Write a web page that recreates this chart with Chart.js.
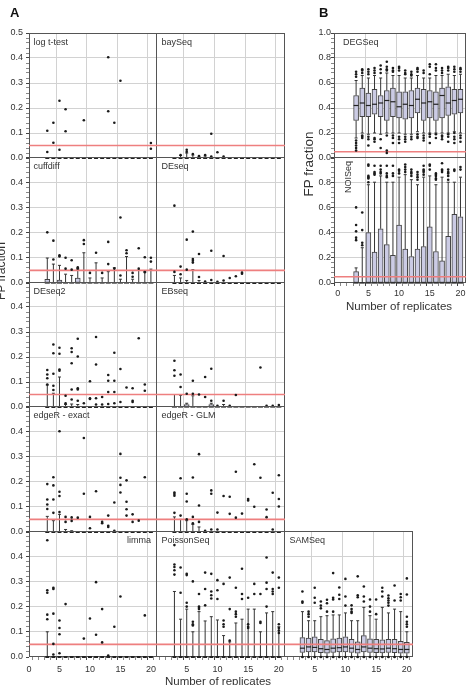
<!DOCTYPE html>
<html>
<head>
<meta charset="utf-8">
<script src="https://cdn.jsdelivr.net/npm/chart.js@4.4.1/dist/chart.umd.min.js"></script>
<style>
  html, body { margin: 0; padding: 0; background: #fff; }
  #stage { position: relative; width: 468px; height: 685px; overflow: hidden;
           font-family: "Liberation Sans", Arial, sans-serif; color: #333; }
  #stage canvas { position: absolute; }
  .lbl { position: absolute; white-space: nowrap; line-height: 1; }
</style>
</head>
<body>
<div id="stage"></div>
<script>
// number of replicates on the x axis
const reps = [3, 4, 5, 6, 7, 8, 9, 10, 11, 12, 13, 14, 15, 16, 17, 18, 19, 20];
const zeroes = [0, 0, 0, 0, 0, 0, 0, 0, 0, 0, 0, 0, 0, 0, 0, 0, 0, 0];
const fpThreshold = 0.05;

// log t-test
const logTOut = [[0.109, 0.024], [0.141, 0.061], [0.229, 0.033], [0.195, 0.107], [], [], [0.151], [], [], [],
  [0.403, 0.187], [0.141], [0.309], [], [], [], [], [0.06, 0.037]];

// baySeq
const baySeqHi = [0, 0.01, 0.02, 0.012, 0.005, 0.008, 0, 0, 0, 0, 0, 0, 0, 0, 0, 0, 0, 0];
const baySeqOut = [[], [0.012], [0.033, 0.025], [0.016], [0.008], [0.012], [0.097, 0.006], [0.023], [0.006], [],
  [], [], [], [], [], [], [], []];

// cuffdiff
const cuffdiffBox = [0.015, 0, 0.012, 0, 0, 0.02, 0, 0, 0, 0, 0, 0, 0, 0, 0, 0, 0, 0];
const cuffdiffHi = [0.099, 0.075, 0.07, 0.035, 0.03, 0.055, 0.12, 0.02, 0.08, 0.02, 0.045, 0.06, 0.015, 0.105, 0.015, 0.05, 0.045, 0.055];
const cuffdiffOut = [[0.201], [0.168, 0.093], [0.11, 0.105], [0.1, 0.057], [0.09, 0.053], [0.062, 0.058], [0.17, 0.155],
  [0.04], [0.12], [0.04], [0.163, 0.075], [0.058], [0.26, 0.03], [0.13, 0.118], [0.04, 0.025], [0.138, 0.057],
  [0.102, 0.043], [0.1, 0.085]];

// DEseq
const DEseqHi = [0.03, 0.02, 0.01, 0.053, 0.01, 0, 0, 0, 0, 0, 0, 0, 0, 0, 0, 0, 0, 0];
const DEseqOut = [[0.307, 0.044], [0.065, 0.035], [0.172, 0.053], [0.204, 0.095, 0.088, 0.081], [0.115, 0.024], [0.006],
  [0.128, 0.012], [0.005], [0.107, 0.01], [0.02], [0.027], [0.041, 0.037], [], [], [], [], [], []];

// DEseq2
const DEseq2Hi = [0.088, 0.055, 0.12, 0.01, 0.012, 0.01, 0, 0, 0, 0, 0, 0, 0, 0, 0, 0, 0, 0];
const DEseq2Out = [[0.148, 0.13, 0.115, 0.09], [0.25, 0.215, 0.133, 0.085, 0.068], [0.237, 0.213, 0.15, 0.145],
  [0.045, 0.015], [0.235, 0.22, 0.175, 0.07, 0.03], [0.273, 0.202, 0.075, 0.07, 0.025], [0.015],
  [0.103, 0.035, 0.032], [0.28, 0.17, 0.035, 0.01], [0.04, 0.01], [0.128, 0.105, 0.06, 0.012],
  [0.217, 0.105, 0.06, 0.015], [0.152, 0.02], [0.078], [0.075, 0.025, 0.02], [0.275], [0.09, 0.065], []];

// EBseq
const EBseqBox = [0, 0, 0.01, 0, 0, 0, 0.01, 0, 0, 0, 0, 0, 0, 0, 0, 0, 0, 0];
const EBseqHi = [0.05, 0.047, 0.015, 0.045, 0, 0, 0.015, 0, 0.01, 0, 0, 0, 0, 0, 0, 0, 0, 0];
const EBseqOut = [[0.185, 0.147, 0.125], [0.13, 0.08], [0.053], [0.105, 0.053], [0.05], [0.12, 0.04], [0.153, 0.025],
  [0.005], [0.025], [0.005], [0.048], [], [], [], [0.158], [0.005], [0.005], [0.008]];

// edgeR - exact
const edgeRExactHi = [0.062, 0.045, 0.07, 0.01, 0.005, 0, 0, 0, 0, 0, 0, 0, 0, 0, 0, 0, 0, 0];
const edgeRExactOut = [[0.19, 0.129, 0.109, 0.091], [0.217, 0.185, 0.129, 0.076], [0.4, 0.16, 0.143, 0.079],
  [0.06, 0.04], [0.058, 0.044], [0.057], [0.373, 0.152], [0.06, 0.015], [0.162], [0.04, 0.035],
  [0.065, 0.025, 0.02], [0.117, 0.005], [0.31, 0.215, 0.187, 0.157], [0.205, 0.12, 0.09, 0.065], [0.07, 0.04],
  [0.045], [0.217], []];

// edgeR - GLM
const edgeRGLMHi = [0.06, 0.05, 0.045, 0.03, 0.02, 0, 0, 0, 0, 0, 0, 0, 0, 0, 0, 0, 0, 0];
const edgeRGLMOut = [[0.157, 0.151, 0.144, 0.076], [0.213, 0.065], [0.152, 0.121, 0.05], [0.216, 0.06, 0.035],
  [0.309, 0.105, 0.04], [0.005], [0.165, 0.152, 0.01], [0.077, 0.01], [0.143], [0.14, 0.072], [0.239, 0.057],
  [0.073], [0.131, 0.125], [0.269, 0.1], [0.215], [0.089, 0.059], [0.156, 0.01], [0.225, 0.131, 0.101]];

// limma
const limmaHi = [0.1, 0, 0, 0, 0, 0, 0, 0, 0, 0, 0, 0, 0, 0, 0, 0, 0, 0];
const limmaOut = [[0.463, 0.265, 0.255, 0.168, 0.15], [0.275, 0.27, 0.172, 0.052, 0.01], [0.145, 0.115, 0.09, 0.015],
  [0.21], [], [], [0.073], [0.153], [0.297, 0.088], [0.19, 0.058], [0.006], [0.12], [0.24], [], [], [], [0.165], []];

// PoissonSeq
const PoissonSeqHi = [0.26, 0.15, 0.19, 0.1, 0.18, 0.143, 0.16, 0.147, 0.085, 0.06, 0.135, 0.15, 0.19, 0.19, 0.1, 0.175, 0.18, 0.12];
const PoissonSeqOut = [[0.444, 0.367, 0.357, 0.344, 0.327], [0.355, 0.255], [0.33, 0.325, 0.215, 0.2],
  [0.3, 0.14, 0.13, 0.125], [0.25, 0.2, 0.195, 0.19], [0.335, 0.27, 0.205], [0.33, 0.26, 0.245, 0.232],
  [0.305, 0.265, 0.23], [0.29, 0.145, 0.13, 0.12], [0.315, 0.19, 0.065], [0.275, 0.18, 0.17, 0.16],
  [0.35, 0.25, 0.23], [0.235, 0.13, 0.12, 0.115], [0.29, 0.25], [0.25, 0.14, 0.135], [0.395, 0.295, 0.27, 0.2],
  [0.335, 0.27, 0.26, 0.25], [0.315, 0.275, 0.13, 0.115, 0.105, 0.095]];

// SAMSeq
const SAMSeqQ1 = [0.018, 0.02, 0.02, 0.017, 0.015, 0.018, 0.02, 0.02, 0.018, 0.015, 0.02, 0.018, 0.017, 0.016, 0.018, 0.017, 0.015, 0.015];
const SAMSeqMed = [0.035, 0.04, 0.038, 0.033, 0.03, 0.035, 0.037, 0.04, 0.035, 0.03, 0.04, 0.035, 0.033, 0.032, 0.035, 0.033, 0.03, 0.03];
const SAMSeqBox = [0.077, 0.075, 0.08, 0.07, 0.065, 0.072, 0.075, 0.08, 0.07, 0.06, 0.085, 0.072, 0.07, 0.068, 0.07, 0.07, 0.062, 0.058];
const SAMSeqHi = [0.18, 0.144, 0.144, 0.16, 0.164, 0.167, 0.167, 0.175, 0.144, 0.144, 0.197, 0.164, 0.15, 0.197, 0.175, 0.19, 0.18, 0.1];
const SAMSeqOut = [[0.26, 0.22, 0.215, 0], [0.18, 0.17, 0.16, 0], [0.275, 0.235, 0.215, 0], [0.22, 0.204, 0.193, 0],
  [0.227, 0.213, 0.18, 0], [0.333, 0.235, 0.228, 0.18, 0], [0.276, 0.247, 0.23, 0], [0.31, 0.24, 0.204, 0],
  [0.205, 0.19, 0.18, 0.175, 0], [0.32, 0.245, 0.237, 0], [0.28, 0.24, 0.22, 0], [0.228, 0.2, 0.18, 0],
  [0.228, 0.17, 0], [0.275, 0.26, 0.24, 0], [0.244, 0.233, 0.224, 0.215, 0.204, 0], [0.284, 0.224, 0],
  [0.25, 0.237, 0.224, 0], [0.312, 0.248, 0.16, 0.14, 0.13, 0.12, 0]];

// DEGSeq (panel B)
const DEGSeqQ1 = [0.30, 0.33, 0.33, 0.35, 0.33, 0.30, 0.33, 0.32, 0.31, 0.32, 0.36, 0.30, 0.32, 0.30, 0.32, 0.34, 0.35, 0.36];
const DEGSeqMed = [0.42, 0.44, 0.42, 0.43, 0.44, 0.46, 0.45, 0.41, 0.43, 0.42, 0.47, 0.44, 0.45, 0.43, 0.50, 0.44, 0.46, 0.47];
const DEGSeqQ3 = [0.50, 0.56, 0.52, 0.55, 0.50, 0.54, 0.56, 0.53, 0.53, 0.54, 0.56, 0.55, 0.54, 0.53, 0.56, 0.57, 0.55, 0.55];
const DEGSeqLo = [0.16, 0.2, 0.19, 0.2, 0.19, 0.2, 0.2, 0.2, 0.19, 0.19, 0.21, 0.2, 0.2, 0.2, 0.2, 0.2, 0.21, 0.2];
const DEGSeqHi = [0.62, 0.66, 0.64, 0.66, 0.64, 0.68, 0.66, 0.66, 0.64, 0.64, 0.66, 0.64, 0.64, 0.66, 0.66, 0.67, 0.66, 0.67];
const DEGSeqOut = [[0.69, 0.67, 0.65, 0.14, 0.12, 0.1, 0.08, 0.06], [0.71, 0.7, 0.68, 0.18, 0.17, 0.16],
  [0.71, 0.69, 0.67, 0.17, 0.15, 0.1], [0.72, 0.7, 0.68, 0.16, 0.15, 0.13], [0.74, 0.71, 0.68, 0.15, 0.08],
  [0.77, 0.73, 0.71, 0.7, 0.18, 0.06, 0.04], [0.72, 0.7, 0.69, 0.18, 0.16, 0.12], [0.73, 0.72, 0.7, 0.17, 0.15, 0.12],
  [0.7, 0.68, 0.67, 0.17, 0.15, 0.13], [0.69, 0.67, 0.66, 0.17, 0.15], [0.72, 0.71, 0.69, 0.19, 0.17, 0.16],
  [0.7, 0.68, 0.18, 0.16, 0.14], [0.75, 0.73, 0.67, 0.19, 0.17, 0.12], [0.75, 0.72, 0.7, 0.19, 0.16],
  [0.72, 0.7, 0.68, 0.18, 0.17, 0.15], [0.73, 0.72, 0.7, 0.19, 0.17, 0.13], [0.73, 0.71, 0.69, 0.2, 0.17, 0.15, 0.12],
  [0.72, 0.71, 0.69, 0.18, 0.16, 0.13]];

// NOISeq (panel B)
const NOISeqQ3 = [0.09, 0, 0.4, 0.245, 0.43, 0.305, 0.22, 0.46, 0.27, 0.21, 0.27, 0.29, 0.445, 0.25, 0.175, 0.37, 0.545, 0.525];
const NOISeqHi = [0.12, 0.28, 0.78, 0.8, 0.85, 0.8, 0.8, 0.84, 0.86, 0.82, 0.78, 0.84, 0.85, 0.78, 0.84, 0.8, 0.8, 0.84];
const NOISeqOut = [[0.6, 0.46, 0.41, 0.36, 0.34], [0.56, 0.42, 0.32, 0.3], [0.94, 0.93, 0.85, 0.84, 0.83, 0.8],
  [0.93, 0.88, 0.87, 0.86], [0.93, 0.9, 0.88, 0.87], [0.93, 0.87, 0.85, 0.84], [0.93, 0.87, 0.85], [0.9, 0.89, 0.87],
  [0.94, 0.92, 0.9, 0.88], [0.9, 0.88, 0.87, 0.85], [0.88, 0.86, 0.84, 0.82], [0.93, 0.9, 0.89, 0.88, 0.86],
  [0.94, 0.93, 0.9], [0.87, 0.86, 0.85, 0.83, 0.82], [0.95, 0.9, 0.89, 0.88], [0.9, 0.88, 0.87, 0.85, 0.82],
  [0.9, 0.89], [0.92, 0.9]];

// panel layout (pixel edges of the plot areas)
const colEdgesA = [29, 156, 284, 412];
const rowEdgesA = [33, 157, 282, 406, 531, 656];
const edgesB = { left: 334, right: 465, rows: [33, 157, 282] };

const panels = [
  { title: 'log t-test', col: 0, row: 0, hi: zeroes, out: logTOut, yLab: true, yTop: true },
  { title: 'baySeq', col: 1, row: 0, hi: baySeqHi, out: baySeqOut },
  { title: 'cuffdiff', col: 0, row: 1, q3: cuffdiffBox, hi: cuffdiffHi, out: cuffdiffOut, yLab: true },
  { title: 'DEseq', col: 1, row: 1, hi: DEseqHi, out: DEseqOut },
  { title: 'DEseq2', col: 0, row: 2, hi: DEseq2Hi, out: DEseq2Out, yLab: true },
  { title: 'EBseq', col: 1, row: 2, q3: EBseqBox, hi: EBseqHi, out: EBseqOut },
  { title: 'edgeR - exact', col: 0, row: 3, hi: edgeRExactHi, out: edgeRExactOut, yLab: true },
  { title: 'edgeR - GLM', col: 1, row: 3, hi: edgeRGLMHi, out: edgeRGLMOut },
  { title: 'limma', col: 0, row: 4, hi: limmaHi, out: limmaOut, yLab: true, xLab: true, titleRight: true },
  { title: 'PoissonSeq', col: 1, row: 4, hi: PoissonSeqHi, out: PoissonSeqOut, xLab: true },
  { title: 'SAMSeq', col: 2, row: 4, q1: SAMSeqQ1, med: SAMSeqMed, q3: SAMSeqBox, hi: SAMSeqHi, out: SAMSeqOut, xLab: true },
  { title: 'DEGSeq', b: true, row: 0, q1: DEGSeqQ1, med: DEGSeqMed, q3: DEGSeqQ3, lo: DEGSeqLo, hi: DEGSeqHi, out: DEGSeqOut, yLab: true, yTop: true },
  { title: 'NOISeq', b: true, row: 1, q3: NOISeqQ3, hi: NOISeqHi, out: NOISeqOut, yLab: true, xLab: true, titleVert: true }
];

const stage = document.getElementById('stage');
Chart.defaults.font.family = '"Liberation Sans", Arial, sans-serif';
Chart.defaults.font.size = 9;
Chart.defaults.color = '#333';

// panel frame drawn under the marks
const framePlugin = {
  id: 'frame',
  beforeDatasetsDraw(chart) {
    const a = chart.chartArea, ctx = chart.ctx;
    ctx.save();
    ctx.strokeStyle = '#555';
    ctx.lineWidth = 1;
    ctx.strokeRect(a.left + 0.5, a.top + 0.5, a.right - a.left - 1, a.bottom - a.top - 1);
    ctx.restore();
  }
};

function isMult(v, step) {
  const r = v / step;
  return Math.abs(r - Math.round(r)) < 1e-6;
}

function addLabel(text, css) {
  const d = document.createElement('div');
  d.className = 'lbl';
  d.textContent = text;
  Object.assign(d.style, css);
  stage.appendChild(d);
  return d;
}

function buildDatasets(p) {
  const q1 = p.q1 || zeroes, med = p.med || zeroes, q3 = p.q3 || zeroes, lo = p.lo || zeroes;
  const boxes = [], upW = [], loW = [], caps = [], meds = [], outs = [];
  reps.forEach((x, i) => {
    if (q3[i] > q1[i]) boxes.push({ x, y: [q1[i], q3[i]] });
    if (p.hi[i] > q3[i]) { upW.push({ x, y: [q3[i], p.hi[i]] }); caps.push({ x, y: p.hi[i] }); }
    if (q1[i] > lo[i]) { loW.push({ x, y: [lo[i], q1[i]] }); caps.push({ x, y: lo[i] }); }
    meds.push({ x, y: med[i] });
    p.out[i].forEach(v => outs.push({ x, y: v }));
  });
  const flat = !p.q1 && !p.q3;
  return [
    { type: 'bar', data: boxes, order: 6, grouped: false, barThickness: 5, backgroundColor: '#cbcbe4',
      borderColor: '#444', borderWidth: 1, borderSkipped: false, clip: false },
    { type: 'bar', data: upW, order: 5, grouped: false, barThickness: 1, backgroundColor: '#333',
      borderWidth: 0, inflateAmount: 0, clip: false },
    { type: 'bar', data: loW, order: 5, grouped: false, barThickness: 1, backgroundColor: '#333',
      borderWidth: 0, inflateAmount: 0, clip: false },
    { type: 'scatter', data: caps, order: 4, pointStyle: 'line', pointRadius: 1.5,
      pointBorderColor: '#333', pointBorderWidth: 1, clip: false },
    { type: 'scatter', data: meds, order: 3, pointStyle: 'line', pointRadius: flat ? 2 : 2.5,
      pointBorderColor: '#222', pointBorderWidth: flat ? 2 : 1.2, clip: false },
    { type: 'line', data: [{ x: p.xMin, y: fpThreshold }, { x: p.xMax, y: fpThreshold }], order: 2,
      borderColor: '#ee7f7f', borderWidth: 1.6, pointRadius: 0, clip: false },
    { type: 'scatter', data: outs, order: 1, pointStyle: 'circle', pointRadius: 1.3,
      pointBackgroundColor: '#1a1a1a', pointBorderWidth: 0, clip: false }
  ];
}

function makePanel(p) {
  let left, right, top, bottom;
  if (p.b) {
    left = edgesB.left; right = edgesB.right + 1;
    top = edgesB.rows[p.row]; bottom = edgesB.rows[p.row + 1] + 1;
    p.xMin = -0.6; p.xMax = 20.9; p.yMax = 1.0; p.major = 0.2;
  } else {
    left = colEdgesA[p.col]; right = colEdgesA[p.col + 1] + 1;
    top = rowEdgesA[p.row]; bottom = rowEdgesA[p.row + 1] + 1;
    p.xMin = 0; p.xMax = 21; p.yMax = 0.5; p.major = 0.1;
  }
  const minor = p.major / 5;
  const padL = p.yLab ? (p.b ? 22 : 29) : 0;
  const padT = 7, padR = 4;
  const xAxisH = p.xLab ? 20 : 0;
  const padB = p.xLab ? 0 : 7;
  const w = right - left, h = bottom - top;
  const cw = w + padL + padR, ch = h + padT + xAxisH + padB;

  const canvas = document.createElement('canvas');
  canvas.width = cw; canvas.height = ch;
  canvas.style.left = (left - padL) + 'px';
  canvas.style.top = (top - padT) + 'px';
  canvas.style.width = cw + 'px';
  canvas.style.height = ch + 'px';
  stage.appendChild(canvas);

  const yTicks = [];
  for (let k = 0; k * minor <= p.yMax + 1e-9; k++) yTicks.push(+(k * minor).toFixed(4));
  const xTicks = [];
  for (let v = Math.ceil(p.xMin); v <= Math.floor(p.xMax); v++) xTicks.push(v);
  const showZeroX = p.b || p.col === 0;

  new Chart(canvas, {
    type: 'scatter',
    data: { datasets: buildDatasets(p) },
    options: {
      responsive: false,
      animation: false,
      events: [],
      layout: { autoPadding: false, padding: { top: padT, right: padR, bottom: padB, left: 0 } },
      plugins: { legend: { display: false }, tooltip: { enabled: false } },
      scales: {
        x: {
          type: 'linear', min: p.xMin, max: p.xMax, offset: false,
          afterBuildTicks: s => { s.ticks = xTicks.map(v => ({ value: v })); },
          afterFit: s => { s.height = xAxisH; s.paddingLeft = 0; s.paddingRight = 0; },
          border: { display: false },
          grid: {
            color: c => (c.tick && isMult(c.tick.value, 5) && c.tick.value > 0 && c.tick.value < p.xMax) ? '#d2d2d2' : 'rgba(0,0,0,0)',
            lineWidth: 1,
            drawTicks: !!p.xLab, tickLength: 3,
            tickColor: c => (c.tick && isMult(c.tick.value, 5)) ? '#444' : '#888'
          },
          ticks: {
            display: !!p.xLab, autoSkip: false, maxRotation: 0, minRotation: 0,
            padding: p.b ? 2 : 4, color: '#333', font: { size: 9 },
            callback: v => (isMult(v, 5) && v <= 20 && (v > 0 || showZeroX)) ? String(v) : ''
          }
        },
        y: {
          type: 'linear', min: 0, max: p.yMax,
          afterBuildTicks: s => { s.ticks = yTicks.map(v => ({ value: v })); },
          afterFit: s => { s.width = padL; s.paddingTop = 0; s.paddingBottom = 0; },
          border: { display: false },
          grid: {
            color: c => (c.tick && isMult(c.tick.value, p.major) && c.tick.value > 0 && c.tick.value < p.yMax - 1e-9) ? '#d2d2d2' : 'rgba(0,0,0,0)',
            lineWidth: 1,
            drawTicks: !!p.yLab, tickLength: 3,
            tickColor: c => (c.tick && isMult(c.tick.value, p.major)) ? '#444' : '#888'
          },
          ticks: {
            display: !!p.yLab, autoSkip: false, padding: p.b ? 0 : 3, color: '#333', font: { size: 9 },
            callback: v => (isMult(v, p.major) && (v < p.yMax - 1e-9 || p.yTop)) ? v.toFixed(1) : ''
          }
        }
      }
    },
    plugins: [framePlugin]
  });

  // panel name inside the plot area
  if (p.titleVert) {
    addLabel(p.title, { left: (left + 14) + 'px', top: (top + 20) + 'px', fontSize: '9px',
      transform: 'translate(-50%,-50%) rotate(-90deg)' });
  } else if (p.titleRight) {
    const d = addLabel(p.title, { top: (top + 4.5) + 'px', fontSize: '9px' });
    d.style.right = (468 - right + 6) + 'px';
  } else {
    addLabel(p.title, { left: (left + (p.b ? 9 : (p.col === 0 ? 4.5 : 5.5))) + 'px', top: (top + 4.5) + 'px', fontSize: '9px' });
  }
}

panels.forEach(makePanel);

// figure letters and axis titles
addLabel('A', { left: '10px', top: '6px', fontSize: '13px', fontWeight: 'bold', color: '#111' });
addLabel('B', { left: '319px', top: '6px', fontSize: '13px', fontWeight: 'bold', color: '#111' });
addLabel('FP fraction', { left: '1px', top: '271px', fontSize: '12px',
  transform: 'translate(-50%,-50%) rotate(-90deg)' });
addLabel('FP fraction', { left: '309px', top: '164px', fontSize: '13.5px',
  transform: 'translate(-50%,-50%) rotate(-90deg)' });
addLabel('Number of replicates', { left: '218px', top: '682px', fontSize: '11.5px',
  transform: 'translate(-50%,-50%)' });
addLabel('Number of replicates', { left: '399px', top: '307px', fontSize: '11.5px',
  transform: 'translate(-50%,-50%)' });
</script>
</body>
</html>
